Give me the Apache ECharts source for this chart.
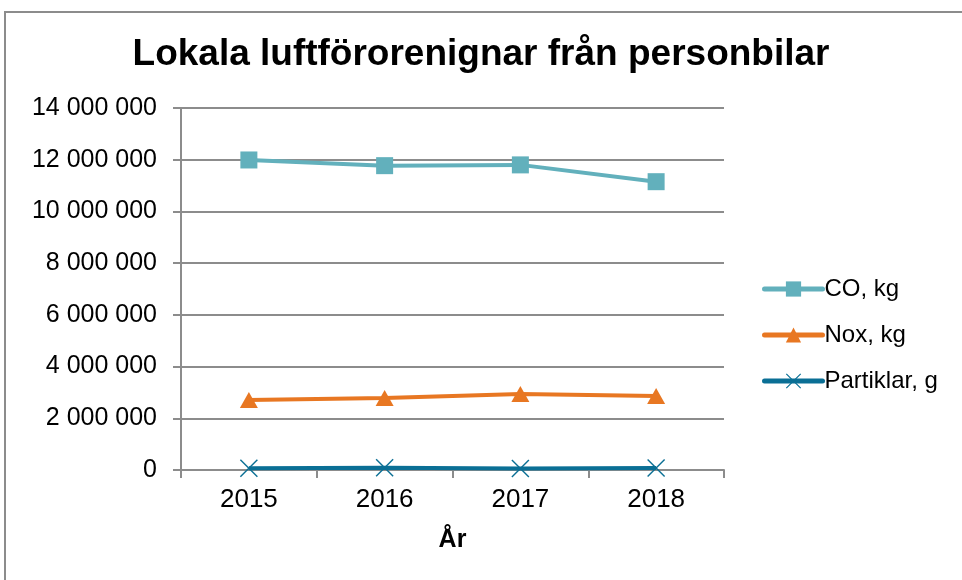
<!DOCTYPE html>
<html>
<head>
<meta charset="utf-8">
<script src="https://cdn.jsdelivr.net/npm/echarts@6/dist/echarts.min.js"></script>
<style>
  html, body { margin: 0; padding: 0; background: #fff; }
  #chart { width: 962px; height: 580px; }
</style>
</head>
<body>
<div id="chart"></div>
<script>
var years = ['2015', '2016', '2017', '2018'];
var coKg = [11990000, 11770000, 11800000, 11150000];
var noxKg = [2710000, 2780000, 2940000, 2860000];
var partiklarG = [70000, 90000, 60000, 80000];

var crossPath = 'path://M0,1L1,0L9,8L17,0L18,1L10,9L18,17L17,18L9,10L1,18L0,17L8,9Z';

var chartDom = document.getElementById('chart');
var myChart = echarts.init(chartDom);
var font = 'Liberation Sans, Arial, sans-serif';

function spaced(v) {
    return String(v).replace(/\B(?=(\d{3})+(?!\d))/g, ' ');
}

var option = {
    animation: false,
    textStyle: { fontFamily: font },
    graphic: [{
        type: 'rect',
        shape: { x: 5, y: 12, width: 980, height: 600 },
        style: { fill: 'none', stroke: '#8c8c8c', lineWidth: 2 }
    }],
    title: {
        text: 'Lokala luftförorenignar från personbilar',
        left: 'center',
        top: 31,
        textStyle: { fontFamily: font, fontSize: 37, fontWeight: 'bold', color: '#000' }
    },
    legend: {
        orient: 'vertical',
        left: 757,
        top: 272,
        itemWidth: 58,
        itemHeight: 19,
        itemGap: 22,
        lineStyle: { width: 5, cap: 'round' },
        textStyle: { fontFamily: font, fontSize: 24, color: '#000', padding: [0, 0, 0, -3] },
        data: ['CO, kg', 'Nox, kg', 'Partiklar, g']
    },
    grid: { left: 181, right: 238, top: 108, bottom: 110 },
    xAxis: {
        type: 'category',
        data: years,
        boundaryGap: true,
        name: 'År',
        nameLocation: 'middle',
        nameGap: 58,
        nameTextStyle: { fontFamily: font, fontSize: 25, fontWeight: 'bold', color: '#000' },
        axisLine: { lineStyle: { color: '#8c8c8c', width: 2 } },
        axisTick: { show: true, length: 8, alignWithLabel: false, lineStyle: { color: '#8c8c8c', width: 2 } },
        axisLabel: { fontFamily: font, fontSize: 26, color: '#000', margin: 17 }
    },
    yAxis: {
        type: 'value',
        min: 0,
        max: 14000000,
        interval: 2000000,
        axisLine: { show: true, lineStyle: { color: '#8c8c8c', width: 2 } },
        axisTick: { show: true, length: 8, lineStyle: { color: '#8c8c8c', width: 2 } },
        splitLine: { lineStyle: { color: '#8c8c8c', width: 2 } },
        axisLabel: { fontFamily: font, fontSize: 25, color: '#000', margin: 24, formatter: spaced }
    },
    series: [
        {
            name: 'CO, kg',
            type: 'line',
            data: coKg,
            symbol: 'rect',
            symbolSize: 17,
            color: '#62b0bc',
            lineStyle: { width: 4 }
        },
        {
            name: 'Nox, kg',
            type: 'line',
            data: noxKg,
            symbol: 'triangle',
            symbolSize: [18, 16],
            color: '#e87722',
            lineStyle: { width: 4 }
        },
        {
            name: 'Partiklar, g',
            type: 'line',
            data: partiklarG,
            symbol: crossPath,
            symbolSize: 18,
            color: '#0a6f95',
            lineStyle: { width: 4 }
        }
    ]
};

option && myChart.setOption(option);
</script>
</body>
</html>
